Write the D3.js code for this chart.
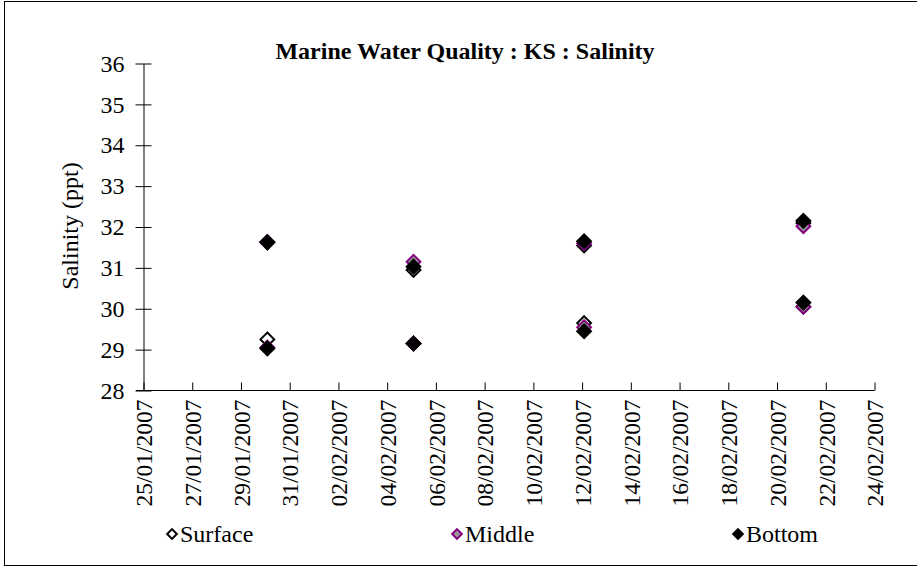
<!DOCTYPE html>
<html><head><meta charset="utf-8">
<script src="https://cdn.jsdelivr.net/npm/d3@7"></script>
<style>body{margin:0;background:#fff}svg{display:block}</style>
</head><body><svg id="c" width="917" height="569"></svg>
<script>
const sampleDates = ["2007-01-30","2007-01-30","2007-02-05","2007-02-05","2007-02-12","2007-02-12","2007-02-21","2007-02-21"];
const surface = [31.62, 29.25, 30.95, 29.15, 31.55, 29.65, 32.10, 30.05];
const middle  = [31.63, 29.05, 31.15, 29.15, 31.60, 29.55, 32.02, 30.05];
const bottom  = [31.63, 29.03, 31.03, 29.15, 31.65, 29.45, 32.15, 30.15];
const yTicks = [28,29,30,31,32,33,34,35,36];
const xStart = "2007-01-25", xEnd = "2007-02-24";
const title = "Marine Water Quality : KS : Salinity";
const yLabel = "Salinity (ppt)";
const seriesNames = ["Surface","Middle","Bottom"];

const FONT = "Liberation Serif";
const parse = d3.timeParse("%Y-%m-%d");
const fmt = d3.timeFormat("%d/%m/%Y");
const svg = d3.select("#c");

svg.append("rect").attr("x",4.5).attr("y",1.5).attr("width",930).attr("height",564)
  .attr("fill","none").attr("stroke","#000").attr("stroke-width",1);

const x = d3.scaleTime().domain([parse(xStart), parse(xEnd)]).range([143.5, 874.5]);
const y = d3.scaleLinear().domain([28,36]).range([390.5, 63.5]);

const gy = svg.append("g").attr("transform","translate(143.5,0)")
  .call(d3.axisLeft(y).tickValues(yTicks).tickSize(8).tickSizeOuter(0).tickPadding(11).tickFormat(d3.format("d")));
gy.selectAll(".tick line").attr("x2",-8).attr("x1",8).attr("stroke","#000");
gy.select(".domain").attr("stroke","#000");
gy.selectAll("text").style("font-family",FONT).style("font-size","24px").attr("fill","#000");

const xTicks = d3.timeDay.range(parse(xStart), d3.timeDay.offset(parse(xEnd),1), 2);
const gx = svg.append("g").attr("transform","translate(0,390.5)")
  .call(d3.axisBottom(x).tickValues(xTicks).tickSize(0).tickSizeOuter(0).tickFormat(fmt));
gx.select(".domain").attr("d","M136,0H874.5").attr("stroke","#000");
gx.selectAll(".tick").append("line").attr("y1",0).attr("y2",-8).attr("stroke","#000");
gx.selectAll("text").style("font-family",FONT).style("font-size","23.5px").attr("fill","#000")
  .attr("transform","rotate(-90)").attr("text-anchor","end").attr("x",-9).attr("y",0).attr("dy","0.35em");

const diamond = d3.symbol().type(d3.symbolDiamond2).size(120);
const styles = [
  {fill:"#fff", stroke:"#000"},
  {fill:"#999999", stroke:"#800080"},
  {fill:"#000", stroke:"#000"}
];
[surface, middle, bottom].forEach((vals,i)=>{
  svg.append("g").selectAll("path").data(vals).join("path")
    .attr("d", diamond)
    .attr("transform",(d,j)=>`translate(${x(parse(sampleDates[j]))+2},${y(d)})`)
    .attr("fill", styles[i].fill).attr("stroke", styles[i].stroke).attr("stroke-width",2);
});

svg.append("text").attr("x",465).attr("y",59).attr("text-anchor","middle")
  .style("font-family",FONT).style("font-weight","bold").style("font-size","24px").text(title);

svg.append("text").attr("transform","translate(78,226) rotate(-90)").attr("text-anchor","middle")
  .style("font-family",FONT).style("font-size","24px").text(yLabel);

const legX = [172, 457, 738];
seriesNames.forEach((n,i)=>{
  svg.append("path").attr("d", d3.symbol().type(d3.symbolDiamond2).size(60))
    .attr("transform",`translate(${legX[i]},534)`)
    .attr("fill", styles[i].fill).attr("stroke", styles[i].stroke).attr("stroke-width",2);
  svg.append("text").attr("x",legX[i]+8).attr("y",542)
    .style("font-family",FONT).style("font-size","24px").text(n);
});
</script></body></html>
